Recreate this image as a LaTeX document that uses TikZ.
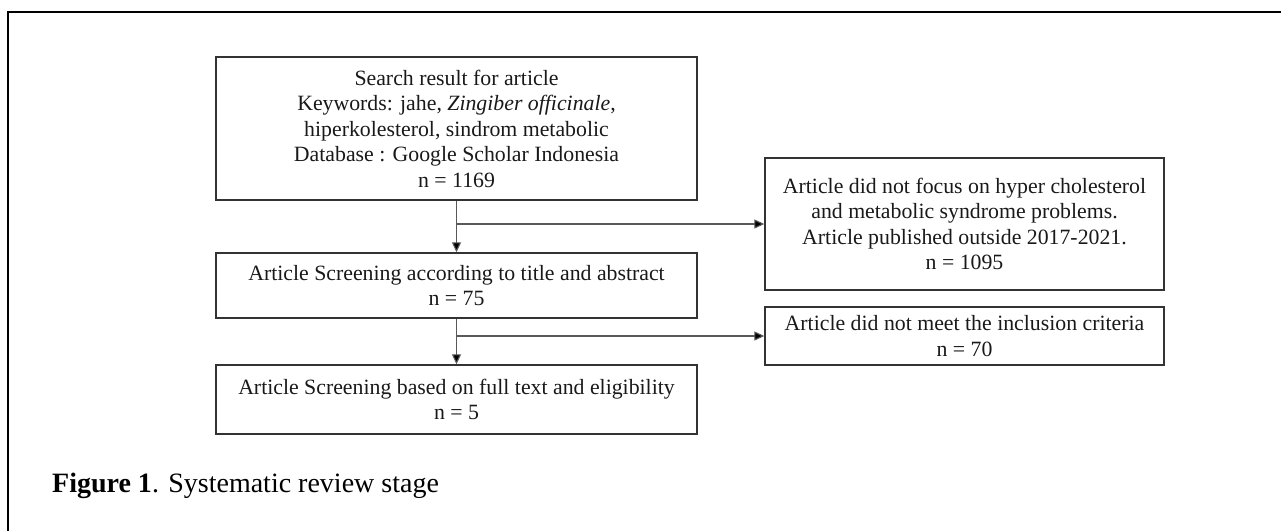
\documentclass[tikz,border=0pt]{standalone}
\usepackage{fontspec}
\setmainfont{Liberation Serif}
\usetikzlibrary{arrows.meta}
\begin{document}
\begin{tikzpicture}[x=1pt,y=-1pt,
  box/.style={draw=black!80,line width=1.4pt,align=center,inner sep=0pt,
    font=\fontsize{21.8}{25.5}\selectfont,text=black!90},
  arr/.style={draw=black!65,line width=1.1pt,-{Triangle[length=10pt,width=9pt,fill=black]}},
  capt/.style={anchor=base west,inner sep=0pt,font=\fontsize{28}{32}\selectfont}]
\useasboundingbox (0,0) rectangle (1281,531);
\draw[line width=2.6pt] (8,531) -- (8,12) -- (1281,12);
\node[box,minimum width=481pt,minimum height=143pt] (s1) at (456.5,128.5)
  {Search result for article\\Keywords: jahe, \textit{Zingiber officinale},\\hiperkolesterol, sindrom metabolic\\Database : Google Scholar Indonesia\\n = 1169};
\node[box,minimum width=481pt,minimum height=65pt] (s2) at (456.5,285.5)
  {Article Screening according to title and abstract\\n = 75};
\node[box,minimum width=481pt,minimum height=69pt] (s3) at (456.5,399.5)
  {Article Screening based on full text and eligibility\\n = 5};
\node[box,minimum width=399pt,minimum height=132pt] (r1) at (964.5,224)
  {Article did not focus on hyper cholesterol\\and metabolic syndrome problems.\\Article published outside 2017-2021.\\n = 1095};
\node[box,minimum width=399pt,minimum height=58pt] (r2) at (964.5,336)
  {Article did not meet the inclusion criteria\\n = 70};
\draw[arr] (s1.south) -- (s2.north);
\draw[arr] (s1.south |- r1.west) -- (r1.west);
\draw[arr] (s2.south) -- (s3.north);
\draw[arr] (s2.south |- r2.west) -- (r2.west);
\node[capt] (cap) at (52,492) {\textbf{Figure 1}. Systematic review stage};
\end{tikzpicture}
\end{document}
